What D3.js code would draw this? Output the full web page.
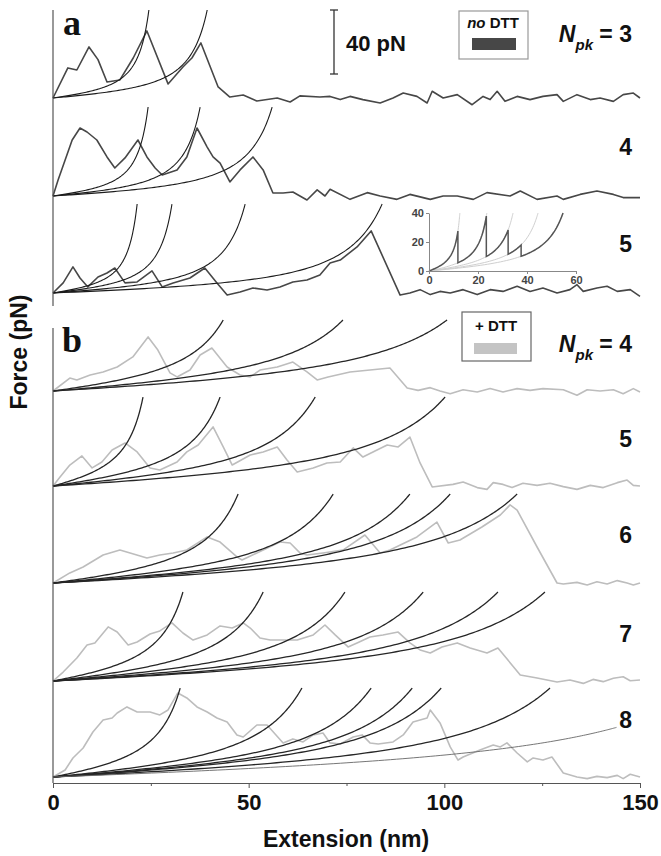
<!DOCTYPE html>
<html>
<head>
<meta charset="utf-8">
<script src="https://cdn.jsdelivr.net/npm/d3@7/dist/d3.min.js"></script>
<style>
  body { margin: 0; background: #fff; }
  svg { display: block; }
  text { font-family: "Liberation Sans", Arial, sans-serif; }
  text.serif { font-family: "Liberation Serif", "Times New Roman", serif; }
</style>
</head>
<body>
<svg id="chart" width="661" height="856"></svg>
<script>
// ---- data: extension (nm), force (pN) ----
const traceA1 = [[0,0],[3.8,18.8],[6.1,17.5],[9.2,31.9],[11.5,24],[13.8,10],[17.1,11.3],[20.5,25],[24.0,41.9],[29.4,8.8],[33.2,19.4],[35.5,25],[37.8,34.4],[42.2,6.9],[45.2,0.6],[48.6,1.9],[52.1,-1.9],[57.3,0],[60.6,-2.5],[63.1,1.3],[68.2,0.6],
  [70.8,1.0],[73.4,-1.0],[75.9,1.0],[79.2,-1.0],[83.6,-3.1],[86.9,0],[89.5,3.1],[93.0,1.0],[95.6,-3.1],[96.9,4.2],[99.7,0],[103.3,2.1],[107.1,-4.2],[109.9,1.0],[111.7,-1.0],[113.5,4.2],[115.5,-2.1],[118.6,1.0],[121.9,-1.0],[125.2,1.0],[128.8,2.1],[130.4,-2.1],[133.9,2.1],[137.3,-1.0],[139.8,0],[143.2,-2.1],[145.7,2.1],[148.3,3.1],[150,0]];
const traceA2 = [[0,0],[1.3,10],[3.1,22.5],[4.9,35],[6.9,42.5],[8.7,40],[11.2,35],[13.8,24.4],[15.8,17.5],[18.4,23.8],[21.7,35],[24.0,24.4],[26.1,17.5],[27.9,13.1],[31.7,16.3],[34.2,24.4],[36.8,42.5],[39.4,30.6],[40.9,24.4],[42.7,20.6],[45.2,8.8],[47.8,16.3],[51.1,24.4],[53.7,16.3],[56.2,1.9],[58.8,1.9],[61.3,2.5],[64.9,-2.5],[67.5,3.8],[69.5,0],
  [70.8,4.2],[75.9,-2.1],[80.3,2.1],[83.6,0],[87.9,-2.1],[91.2,1.0],[96.4,-2.1],[99.7,0],[103.3,0],[107.4,-2.1],[110.9,2.1],[116.8,0],[119.4,3.1],[123.7,-2.1],[128.8,0],[130.4,-2.1],[134.7,1.0],[139.0,3.1],[143.2,1.0],[145.7,-1.0],[150,-1.0]];
const traceA3 = [[0,0],[2.6,6.3],[5.1,16.3],[6.9,9.4],[8.9,3.8],[11.5,10],[13.8,12.5],[15.8,15.6],[18.4,6.3],[21.5,6.9],[25.3,13.8],[27.9,3.8],[30.7,6.3],[35.0,9.4],[38.8,15.6],[41.9,6.3],[44.5,-1.3],[47.8,0.6],[51.1,3.1],[54.7,1.9],[58.0,3.8],[61.3,6.9],[64.9,8.1],[68.2,11.3],[70.8,18.8],[73.4,20.6],[77.7,28.8],[81.3,38.8],[88.7,-1.3],
  [91.2,0],[93.8,2.1],[96.4,-1.0],[98.9,1.0],[101.5,0],[104.8,2.1],[108.4,-1.0],[111.7,2.1],[115.0,1.0],[118.6,4.2],[121.9,1.0],[125.2,3.1],[128.8,0],[132.1,2.1],[133.9,5.2],[135.5,1.0],[139.0,3.1],[141.6,4.2],[144.2,1.0],[147.5,2.1],[150,-2.1]];
const traceB4 = [[0,0],[4.3,8.1],[6.1,6.9],[9.5,10],[12.8,11.9],[16.4,15],[20.4,21.3],[24.3,33.8],[26.8,25.6],[29.9,11.3],[31.7,8.8],[35.0,13.1],[37.6,22.5],[40.6,26.9],[44.5,15],[47.8,10],[50.4,8.8],[52.9,13.1],[57.3,15],[61.3,18.1],[64.9,11.9],[67.5,6.9],[70.3,8.8],[75.9,11.9],[81.0,13.1],[86.1,14.4],[90.5,1.9],
  [93.3,0.4],[96.4,2.1],[98.9,0],[101.5,-1.7],[104.8,0.8],[108.4,-0.6],[111.7,1.5],[115.0,-0.6],[118.6,1.5],[121.9,0.4],[125.2,1.5],[130.4,0.8],[133.9,-2.7],[136.5,0.8],[139.8,0],[143.2,0.8],[145.7,-1.7],[148.3,1.5],[150,-0.6]];
const traceB5 = [[0,0],[1.8,5.6],[4.3,13.1],[7.4,18.8],[10.0,11.3],[12.5,15],[15.1,22.5],[18.4,26.9],[21.5,21.3],[24.8,11.3],[27.3,10],[31.7,15],[34.2,21.3],[37.1,25.6],[40.9,36.9],[43.5,24.4],[45.8,13.1],[50.4,19.4],[53.7,21.3],[57.3,24.4],[59.8,16.3],[62.4,8.8],[66.5,11.3],[70.0,14.4],[73.4,15],[76.7,23.8],[79.2,18.1],[82.8,22.5],[85.4,25.6],[88.2,24.4],[91.2,30.6],[93.8,14.4],[96.9,-0.6],
  [102.2,1.0],[104.8,2.5],[108.4,-1.0],[110.9,-2.1],[112.5,2.1],[115.0,1.0],[117.3,-1.0],[120.1,1.7],[123.7,0.4],[127.0,1.7],[130.4,-0.4],[133.9,-2.1],[137.3,0.4],[140.6,-1.0],[144.2,2.1],[146.7,3.7],[148.3,0.4],[150,0]];
const traceB6 = [[0,0],[4.3,6.3],[7.7,10],[12.8,17.5],[17.1,20.6],[19.7,18.8],[24.0,15.6],[27.3,17.5],[30.7,18.8],[34.2,20.6],[39.4,28.8],[42.7,25.6],[47.0,16.3],[48.3,14.4],[52.1,18.8],[58.0,25.6],[60.6,25],[63.1,18.8],[64.9,17.5],[69.0,18.8],[74.1,20.6],[79.7,30],[83.6,18.8],[86.1,20.6],[93.0,28.8],[98.1,38.1],[101.0,25],[104.0,26.9],[109.6,35],[114.3,42.5],[116.8,48.8],[118.6,45.6],[123.7,22.5],[128.8,0],
  [130.4,-0.6],[133.9,0.4],[136.5,-1.2],[139.0,0.8],[141.6,-0.6],[144.2,1.5],[146.7,0],[148.3,-1.2],[150,0]];
const traceB7 = [[0,0],[2.6,5.6],[6.1,14.4],[8.7,22.5],[10.7,23.8],[14.1,33.8],[16.4,30.6],[19.2,22.5],[21.5,24.4],[24.8,29.4],[27.3,31.3],[30.4,36.3],[33.2,30],[35.8,25.6],[39.4,28.8],[42.7,34.4],[45.8,33.1],[48.6,36.3],[50.4,33.1],[52.9,26.9],[55.5,25.6],[62.4,25.6],[66.5,28.8],[69.5,35],[72.1,28.8],[75.4,21.3],[77.7,23.8],[81.0,27.5],[84.3,28.8],[88.2,30.6],[91.2,23.8],[93.8,19.4],[96.4,17.5],[99.4,21.3],[103.3,23.8],[106.6,20.6],[110.9,17.5],[113.7,20.6],[119.4,3.8],[123.7,1.9],[128.8,-0.6],
  [132.1,0.6],[135.5,-1.5],[138.0,1.0],[140.6,-0.4],[143.2,1.7],[145.7,2.7],[147.5,0.2],[150,0.6]];
const traceB8 = [[0,0],[3.1,4.4],[5.1,11.9],[7.7,18.1],[10.2,28.1],[12.8,35.6],[15.1,36.9],[16.4,40],[18.9,43.8],[21.5,40.6],[24.8,40.6],[27.3,38.8],[29.4,41.9],[31.9,52.5],[34.2,49.4],[36.8,43.8],[39.4,40.6],[41.9,36.9],[44.5,34.4],[47.0,26.3],[48.6,25],[52.1,32.5],[54.7,32.5],[58.8,21.3],[61.3,23.8],[63.9,21.9],[66.5,26.3],[69.0,27.5],[70.8,21.3],[73.4,20.6],[76.7,25],[79.0,26.3],[81.0,21.3],[83.1,20.6],[86.9,21.9],[89.5,26.3],[92.0,34.4],[95.6,36.9],[96.4,41.9],[98.9,33.8],[101.5,18.8],[103.5,10.6],[104.8,12.5],[109.1,16.9],[112.5,20],[114.3,18.8],[116.0,21.3],[118.6,15],[121.2,9.4],[122.7,11.9],[125.2,10.6],[127.5,12.5],[130.4,2.5],[133.9,0],
  [136.5,-1.0],[139.0,0.4],[141.6,-0.4],[144.2,1.0],[145.7,-1.0],[147.5,1.7],[150,0]];

// extension (nm) where each WLC fit leaves the plotted range
const fitsA1 = [24.5, 39.4];
const fitsA2 = [24.3, 37.6, 56.0];
const fitsA3 = [21.5, 30.4, 49.1, 84.1];
const fitsB4 = [43.5, 74.1, 100.7];
const fitsB5 = [23.0, 42.7, 67.0, 100.2];
const fitsB6 = [47.3, 71.6, 91.2, 101.5, 118.6];
const fitsB7 = [33.2, 53.7, 74.6, 94.6, 113.7, 125.7];
const fitsB8 = [32.5, 63.6, 81.3, 91.8, 99.2, 127.0];
const thinFitB8 = [144.0];

const npkLabels = ["3", "4", "5", "4", "5", "6", "7", "8"];
const xTicks = [0, 50, 100, 150];
const xMinorTicks = [25, 75, 125];

// inset: sawtooth model (nm, pN)
const insetTops = [12.6, 23.6, 34.3, 44.5, 54.7];
const insetRuptures = [11.8, 23.4, 32.3, 37.6];
const insetXTicks = [0, 20, 40, 60];
const insetYTicks = [0, 20, 40];

// ---- layout ----
const svg = d3.select("#chart");
const x = d3.scaleLinear().domain([0, 150]).range([53, 640]);
const pxPerPN = 1.6;

const rows = [
  {panel: "a", trace: traceA1, fits: fitsA1, top: 55, base: 98, labelY: 42},
  {panel: "a", trace: traceA2, fits: fitsA2, top: 55.6, base: 196, labelY: 155},
  {panel: "a", trace: traceA3, fits: fitsA3, top: 55.6, base: 293, labelY: 252},
  {panel: "b", trace: traceB4, fits: fitsB4, top: 44.4, base: 391, labelY: 352},
  {panel: "b", trace: traceB5, fits: fitsB5, top: 55.6, base: 486, labelY: 447},
  {panel: "b", trace: traceB6, fits: fitsB6, top: 55.6, base: 583, labelY: 543},
  {panel: "b", trace: traceB7, fits: fitsB7, top: 55.6, base: 681, labelY: 642},
  {panel: "b", trace: traceB8, fits: fitsB8, top: 55.6, base: 777, labelY: 728}
];
const kPanel = {a: 7, b: 14}; // kT/p in pN

function wlc(r) { return 0.25 / ((1 - r) * (1 - r)) - 0.25 + r; }
function solveR(g) {
  let lo = 0, hi = 0.999;
  for (let i = 0; i < 60; i++) {
    const m = (lo + hi) / 2;
    if (wlc(m) < g) lo = m; else hi = m;
  }
  return (lo + hi) / 2;
}
function fitCurve(xEnd, fTop, k) {
  const L = xEnd / solveR(fTop / k);
  return d3.range(0, 121).map(i => {
    const t = i / 120;
    const xx = xEnd * (1 - (1 - t) * (1 - t));
    return [xx, k * wlc(xx / L)];
  });
}

const gTraces = svg.append("g");
const gFits = svg.append("g");

rows.forEach((row, i) => {
  const y = d3.scaleLinear().domain([0, 40]).range([row.base, row.base - 40 * pxPerPN]);
  const line = d3.line().x(d => x(d[0])).y(d => y(d[1]));
  const k = kPanel[row.panel];

  gTraces.append("path")
    .datum(row.trace)
    .attr("d", line)
    .attr("fill", "none")
    .attr("stroke", row.panel === "a" ? "#474747" : "#bdbdbd")
    .attr("stroke-width", row.panel === "a" ? 1.6 : 1.6)
    .attr("stroke-linejoin", "round");

  gFits.selectAll(null)
    .data(row.fits)
    .enter()
    .append("path")
    .attr("d", d => line(fitCurve(d, row.top, k)))
    .attr("fill", "none")
    .attr("stroke", row.panel === "a" ? "#1c1c1c" : "#262626")
    .attr("stroke-width", row.panel === "a" ? 1.1 : 1.3);

  if (i === 7) {
    gFits.selectAll(null)
      .data(thinFitB8)
      .enter()
      .append("path")
      .attr("d", d => line(fitCurve(d, 31, k)))
      .attr("fill", "none")
      .attr("stroke", "#666")
      .attr("stroke-width", 0.9);
  }

  // N_pk labels
  const t = svg.append("text")
    .attr("x", 632)
    .attr("y", row.labelY)
    .attr("text-anchor", "end")
    .attr("font-weight", "bold")
    .attr("font-size", 23)
    .attr("fill", "#111");
  if (i === 0 || i === 3) {
    t.append("tspan").attr("font-style", "italic").text("N");
    t.append("tspan").attr("font-style", "italic").attr("font-size", 15).attr("dy", 8).text("pk");
    t.append("tspan").attr("dy", -8).text(" = " + npkLabels[i]);
  } else {
    t.text(npkLabels[i]);
  }
});

// ---- axes ----
const axisColor = "#555";
svg.append("line").attr("x1", 53).attr("x2", 53).attr("y1", 10).attr("y2", 306)
  .attr("stroke", axisColor).attr("stroke-width", 1.2);
svg.append("line").attr("x1", 53).attr("x2", 53).attr("y1", 328).attr("y2", 783)
  .attr("stroke", axisColor).attr("stroke-width", 1.2);

const xAxis = svg.append("g")
  .attr("transform", "translate(0,783)")
  .call(d3.axisBottom(x).tickValues(xTicks).tickSize(5).tickSizeOuter(0).tickPadding(6));
xAxis.select(".domain").attr("stroke", axisColor).attr("stroke-width", 1.2);
xAxis.selectAll(".tick line").attr("stroke", axisColor);
xAxis.selectAll("text")
  .attr("font-size", 22).attr("font-weight", "bold").attr("fill", "#111");
svg.append("g")
  .attr("transform", "translate(0,783)")
  .call(d3.axisBottom(x).tickValues(xMinorTicks).tickSize(3).tickSizeOuter(0).tickFormat(""))
  .call(g => g.select(".domain").remove())
  .selectAll(".tick line").attr("stroke", axisColor);

svg.append("text")
  .attr("x", 346).attr("y", 847)
  .attr("text-anchor", "middle")
  .attr("font-size", 23).attr("font-weight", "bold").attr("fill", "#111")
  .text("Extension (nm)");
svg.append("text")
  .attr("transform", "translate(27,352) rotate(-90)")
  .attr("text-anchor", "middle")
  .attr("font-size", 23).attr("font-weight", "bold").attr("fill", "#111")
  .text("Force (pN)");

// panel letters
svg.append("text").attr("class", "serif").attr("x", 63).attr("y", 35)
  .attr("font-size", 36).attr("font-weight", "bold").attr("fill", "#111").text("a");
svg.append("text").attr("class", "serif").attr("x", 62).attr("y", 352)
  .attr("font-size", 36).attr("font-weight", "bold").attr("fill", "#111").text("b");

// scale bar: 40 pN
const barTop = 10;
const barBottom = barTop + 40 * pxPerPN;
const sb = svg.append("g").attr("stroke", "#333").attr("stroke-width", 1.3);
sb.append("line").attr("x1", 334).attr("x2", 334).attr("y1", barTop).attr("y2", barBottom);
sb.append("line").attr("x1", 330).attr("x2", 338).attr("y1", barTop).attr("y2", barTop);
sb.append("line").attr("x1", 330).attr("x2", 338).attr("y1", barBottom).attr("y2", barBottom);
svg.append("text").attr("x", 346).attr("y", 51)
  .attr("font-size", 22).attr("font-weight", "bold").attr("fill", "#111").text("40 pN");

// legends
svg.append("rect").attr("x", 459).attr("y", 11).attr("width", 69).attr("height", 48)
  .attr("fill", "none").attr("stroke", "#999").attr("stroke-width", 1.2);
const la = svg.append("text").attr("x", 493).attr("y", 28).attr("text-anchor", "middle")
  .attr("font-size", 15).attr("font-weight", "bold").attr("fill", "#111");
la.append("tspan").attr("font-style", "italic").text("no");
la.append("tspan").text(" DTT");
svg.append("rect").attr("x", 472).attr("y", 38).attr("width", 44).attr("height", 12).attr("fill", "#474747");

svg.append("rect").attr("x", 462).attr("y", 312).attr("width", 69).attr("height", 49)
  .attr("fill", "none").attr("stroke", "#666").attr("stroke-width", 1.2);
svg.append("text").attr("x", 496).attr("y", 331).attr("text-anchor", "middle")
  .attr("font-size", 15).attr("font-weight", "bold").attr("fill", "#111").text("+ DTT");
svg.append("rect").attr("x", 474).attr("y", 343).attr("width", 43).attr("height", 11).attr("fill", "#c4c4c4");

// ---- inset ----
const xi = d3.scaleLinear().domain([0, 60]).range([429, 576]);
const yi = d3.scaleLinear().domain([0, 40]).range([271, 213]);
const insetK = 7;
const insetL = insetTops.map(t => t / solveR(40 / insetK));
const iline = d3.line().x(d => xi(d[0])).y(d => yi(d[1]));

const inset = svg.append("g");
inset.selectAll(null)
  .data(insetL)
  .enter()
  .append("path")
  .attr("d", (L, i) => iline(d3.range(0, 61).map(j => {
    const t = j / 60;
    const xx = insetTops[i] * (1 - (1 - t) * (1 - t));
    return [xx, insetK * wlc(xx / L)];
  })))
  .attr("fill", "none").attr("stroke", "#cfcfcf").attr("stroke-width", 1);

const saw = [];
let xStart = 0;
insetL.forEach((L, i) => {
  const xEnd = i < insetRuptures.length ? insetRuptures[i] : insetTops[i];
  d3.range(0, 41).forEach(j => {
    const t = j / 40;
    const xx = xStart + (xEnd - xStart) * (1 - (1 - t) * (1 - t));
    saw.push([xx, insetK * wlc(xx / L)]);
  });
  xStart = xEnd;
});
inset.append("path").datum(saw).attr("d", iline)
  .attr("fill", "none").attr("stroke", "#555").attr("stroke-width", 1.5);

const ixAxis = inset.append("g").attr("transform", "translate(0,271)")
  .call(d3.axisBottom(xi).tickValues(insetXTicks).tickSize(3).tickSizeOuter(0).tickPadding(2));
const iyAxis = inset.append("g").attr("transform", "translate(429,0)")
  .call(d3.axisLeft(yi).tickValues(insetYTicks).tickSize(3).tickSizeOuter(0).tickPadding(2));
[ixAxis, iyAxis].forEach(a => {
  a.select(".domain").attr("stroke", "#888");
  a.selectAll(".tick line").attr("stroke", "#888");
  a.selectAll("text")
    .attr("font-size", 11).attr("font-weight", "bold").attr("fill", "#444");
});
</script>
</body>
</html>
